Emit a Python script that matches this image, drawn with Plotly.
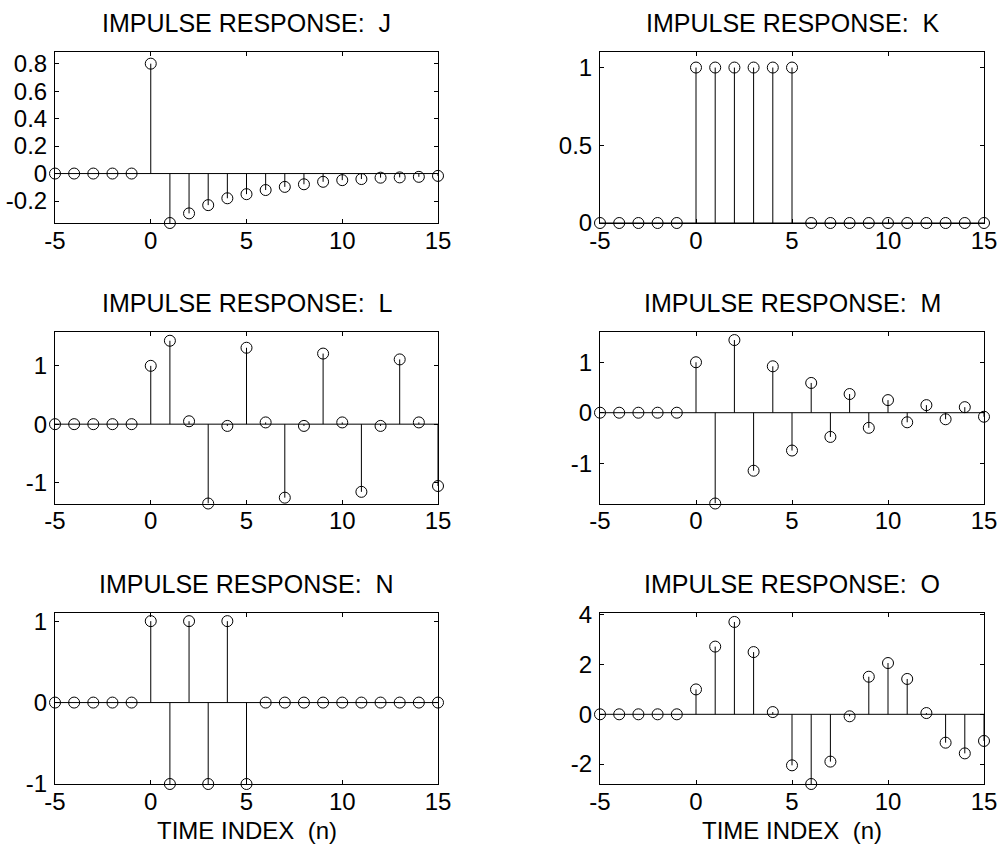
import plotly.graph_objects as go

# ---- data ----
n = list(range(-5, 16))
zeros5 = [0, 0, 0, 0, 0]
h_J = zeros5 + [0.8, -0.36, -0.29, -0.23, -0.18, -0.15, -0.12, -0.097, -0.078, -0.06,
                -0.048, -0.04, -0.03, -0.028, -0.024, -0.017]
h_K = zeros5 + [1, 1, 1, 1, 1, 1, 0, 0, 0, 0, 0, 0, 0, 0, 0, 0]
h_L = zeros5 + [1, 1.43, 0.05, -1.36, -0.03, 1.31, 0.03, -1.26, -0.03, 1.21, 0.03,
                -1.16, -0.03, 1.11, 0.03, -1.06]
h_M = zeros5 + [1, -1.8, 1.44, -1.15, 0.92, -0.75, 0.59, -0.48, 0.37, -0.3, 0.25,
                -0.19, 0.15, -0.13, 0.11, -0.08]
h_N = zeros5 + [1, -1, 1, -1, 1, -1, 0, 0, 0, 0, 0, 0, 0, 0, 0, 0]
h_O = zeros5 + [1, 2.72, 3.71, 2.5, 0.09, -2.05, -2.8, -1.9, -0.08, 1.51, 2.06,
                1.42, 0.05, -1.14, -1.57, -1.07]

names = ["J", "K", "L", "M", "N", "O"]
series = [h_J, h_K, h_L, h_M, h_N, h_O]

x_tickvals = [-5, 0, 5, 10, 15]
x_ticktext = ["-5", "0", "5", "10", "15"]

y_tickvals = {
    "J": [-0.2, 0, 0.2, 0.4, 0.6, 0.8],
    "K": [0, 0.5, 1],
    "L": [-1, 0, 1],
    "M": [-1, 0, 1],
    "N": [-1, 0, 1],
    "O": [-2, 0, 2, 4],
}
y_ticktext = {
    "J": ["-0.2", "0", "0.2", "0.4", "0.6", "0.8"],
    "K": ["0", "0.5", "1"],
    "L": ["-1", "0", "1"],
    "M": ["-1", "0", "1"],
    "N": ["-1", "0", "1"],
    "O": ["-2", "0", "2", "4"],
}
y_ranges = {
    "J": [-0.36, 0.885],
    "K": [0, 1.1],
    "L": [-1.36, 1.58],
    "M": [-1.8, 1.6],
    "N": [-1, 1.1],
    "O": [-2.8, 4.07],
}
x_title = "TIME INDEX\u00a0 (n)"

# ---- layout geometry (pixels) ----
W, H = 1000, 844
cols = [(55, 438), (600, 984)]
rows = [(52, 223), (332, 503.5), (613, 784)]
FONT = "Liberation Sans, Arial, Helvetica, sans-serif"


def px_x(v):
    return v / W


def px_y(v):
    return 1 - v / H


fig = go.Figure()
layout = dict(
    width=W, height=H,
    margin=dict(l=0, r=0, t=0, b=0, pad=0),
    paper_bgcolor="white", plot_bgcolor="white",
    showlegend=False,
    font=dict(family=FONT, size=24, color="black"),
)
annotations = []

for i, (name, h) in enumerate(zip(names, series)):
    r, c = divmod(i, 2)
    ax = "" if i == 0 else str(i + 1)
    xa, ya = "x" + ax, "y" + ax
    x0, x1 = cols[c]
    y0, y1 = rows[r]

    # stems
    sx, sy = [], []
    for xv, yv in zip(n, h):
        sx += [xv, xv, None]
        sy += [0, yv, None]
    fig.add_trace(go.Scatter(x=sx, y=sy, mode="lines", xaxis=xa, yaxis=ya,
                             line=dict(color="black", width=1), hoverinfo="skip",
                             cliponaxis=False))
    # baseline
    fig.add_trace(go.Scatter(x=[n[0], n[-1]], y=[0, 0], mode="lines", xaxis=xa, yaxis=ya,
                             line=dict(color="black", width=1), hoverinfo="skip"))
    # markers
    fig.add_trace(go.Scatter(x=n, y=h, mode="markers", xaxis=xa, yaxis=ya,
                             marker=dict(symbol="circle-open", size=11, color="black",
                                         line=dict(color="black", width=1)),
                             cliponaxis=False))

    common = dict(showgrid=False, zeroline=False, showline=True, linecolor="black",
                  linewidth=1, mirror="ticks", ticks="inside", ticklen=4,
                  tickcolor="black", tickwidth=1, automargin=False,
                  tickfont=dict(family=FONT, size=24, color="black"))
    xdict = dict(domain=[px_x(x0), px_x(x1)], range=[-5, 15], anchor=ya,
                 tickmode="array", tickvals=x_tickvals, ticktext=x_ticktext,
                 ticklabelstandoff=-4, **common)
    ydict = dict(domain=[px_y(y1), px_y(y0)], range=y_ranges[name], anchor=xa,
                 tickmode="array", tickvals=y_tickvals[name], ticktext=y_ticktext[name],
                 ticklabelstandoff=2, **common)
    layout["xaxis" + ax] = xdict
    layout["yaxis" + ax] = ydict

    annotations.append(dict(
        text="IMPULSE RESPONSE:\u00a0 " + name,
        xref="paper", yref="paper",
        x=px_x((x0 + x1) / 2), y=px_y(y0 - 29),
        xanchor="center", yanchor="middle", showarrow=False,
        font=dict(family=FONT, size=25, color="black"),
    ))
    if r == 2:
        annotations.append(dict(
            text=x_title, xref="paper", yref="paper",
            x=px_x((x0 + x1) / 2), y=px_y(830),
            xanchor="center", yanchor="middle", showarrow=False,
            font=dict(family=FONT, size=24, color="black"),
        ))

layout["annotations"] = annotations
fig.update_layout(**layout)
fig.write_html(
    "out.html",
    config={"displayModeBar": False},
    post_script="document.body.style.margin='0';document.body.style.overflow='hidden';",
)
